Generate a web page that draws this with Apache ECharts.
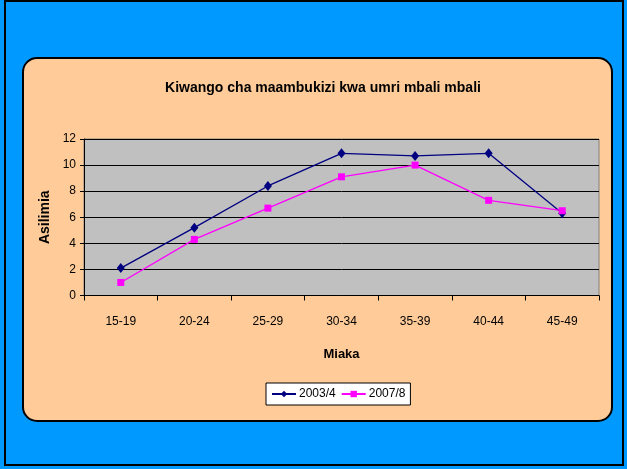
<!DOCTYPE html>
<html>
<head>
<meta charset="utf-8">
<script src="https://cdn.jsdelivr.net/npm/echarts@6/dist/echarts.min.js"></script>
<style>html,body{margin:0;padding:0;background:#0099FF;}#c{width:627px;height:469px;}</style>
</head>
<body>
<div id="c"></div>
<script>
var categories = ['15-19','20-24','25-29','30-34','35-39','40-44','45-49'];
var series2003 = [2.1, 5.2, 8.4, 10.9, 10.7, 10.9, 6.3];
var series2007 = [1.0, 4.3, 6.7, 9.1, 10.0, 7.3, 6.5];
var yTicks = [0, 2, 4, 6, 8, 10, 12];

var chart = echarts.init(document.getElementById('c'));
var F = 'Liberation Sans, Arial, sans-serif';
chart.setOption({
  backgroundColor: '#0099FF',
  animation: false,
  graphic: [
    {type:'rect', z:-10, shape:{x:5,y:1,width:618,height:464}, style:{fill:'#0099FF', stroke:'#000', lineWidth:2}},
    {type:'rect', z:-9, shape:{x:23,y:58,width:589,height:363,r:14}, style:{fill:'#FFCC99', stroke:'#000', lineWidth:2}},
    {type:'rect', z:-8, shape:{x:84,y:139,width:515,height:156.5}, style:{fill:'#C0C0C0', stroke:'#808080', lineWidth:1}}
  ],
  title: {
    text: 'Kiwango cha maambukizi kwa umri mbali mbali',
    left: 318, top: 76, textAlign: 'center',
    textStyle: {fontFamily: F, fontSize: 14, fontWeight: 'bold', color: '#000'}
  },
  legend: {
    left: 266, top: 383,
    data: ['2003/4', '2007/8'],
    backgroundColor: '#fff', borderColor: '#000', borderWidth: 1,
    padding: [5, 5], itemGap: 5, itemWidth: 24, itemHeight: 8,
    textStyle: {fontFamily: F, fontSize: 12, color: '#000', padding: [0, 0, 0, -2]}
  },
  grid: {left: 84, right: 28, top: 139, bottom: 173.5},
  xAxis: {
    type: 'category', data: categories, boundaryGap: true,
    name: 'Miaka', nameLocation: 'middle', nameGap: 52,
    nameTextStyle: {fontFamily: F, fontSize: 13, fontWeight: 'bold', color: '#000'},
    axisLine: {lineStyle: {color: '#000', width: 1}},
    axisTick: {show: true, length: 5, lineStyle: {color: '#000'}},
    axisLabel: {fontFamily: F, fontSize: 12, color: '#000', margin: 20}
  },
  yAxis: {
    type: 'value', min: 0, max: 12, interval: 2,
    name: 'Asilimia', nameLocation: 'middle', nameGap: 30,
    nameTextStyle: {fontFamily: F, fontSize: 14, fontWeight: 'bold', color: '#000'},
    axisLine: {show: true, lineStyle: {color: '#000', width: 1}},
    axisTick: {show: true, length: 4, lineStyle: {color: '#000'}},
    axisLabel: {fontFamily: F, fontSize: 12, color: '#000', margin: 8,
      formatter: function(v){ return yTicks.indexOf(v) >= 0 ? String(v) : ''; }},
    splitLine: {show: true, lineStyle: {color: '#000', width: 1}}
  },
  series: [
    {name: '2003/4', type: 'line', data: series2003, symbol: 'diamond', symbolSize: [8, 10],
     lineStyle: {color: '#000080', width: 1.3}, itemStyle: {color: '#000080'}},
    {name: '2007/8', type: 'line', data: series2007, symbol: 'rect', symbolSize: 7,
     lineStyle: {color: '#FF00FF', width: 1.3}, itemStyle: {color: '#FF00FF'}}
  ]
});
</script>
</body>
</html>
